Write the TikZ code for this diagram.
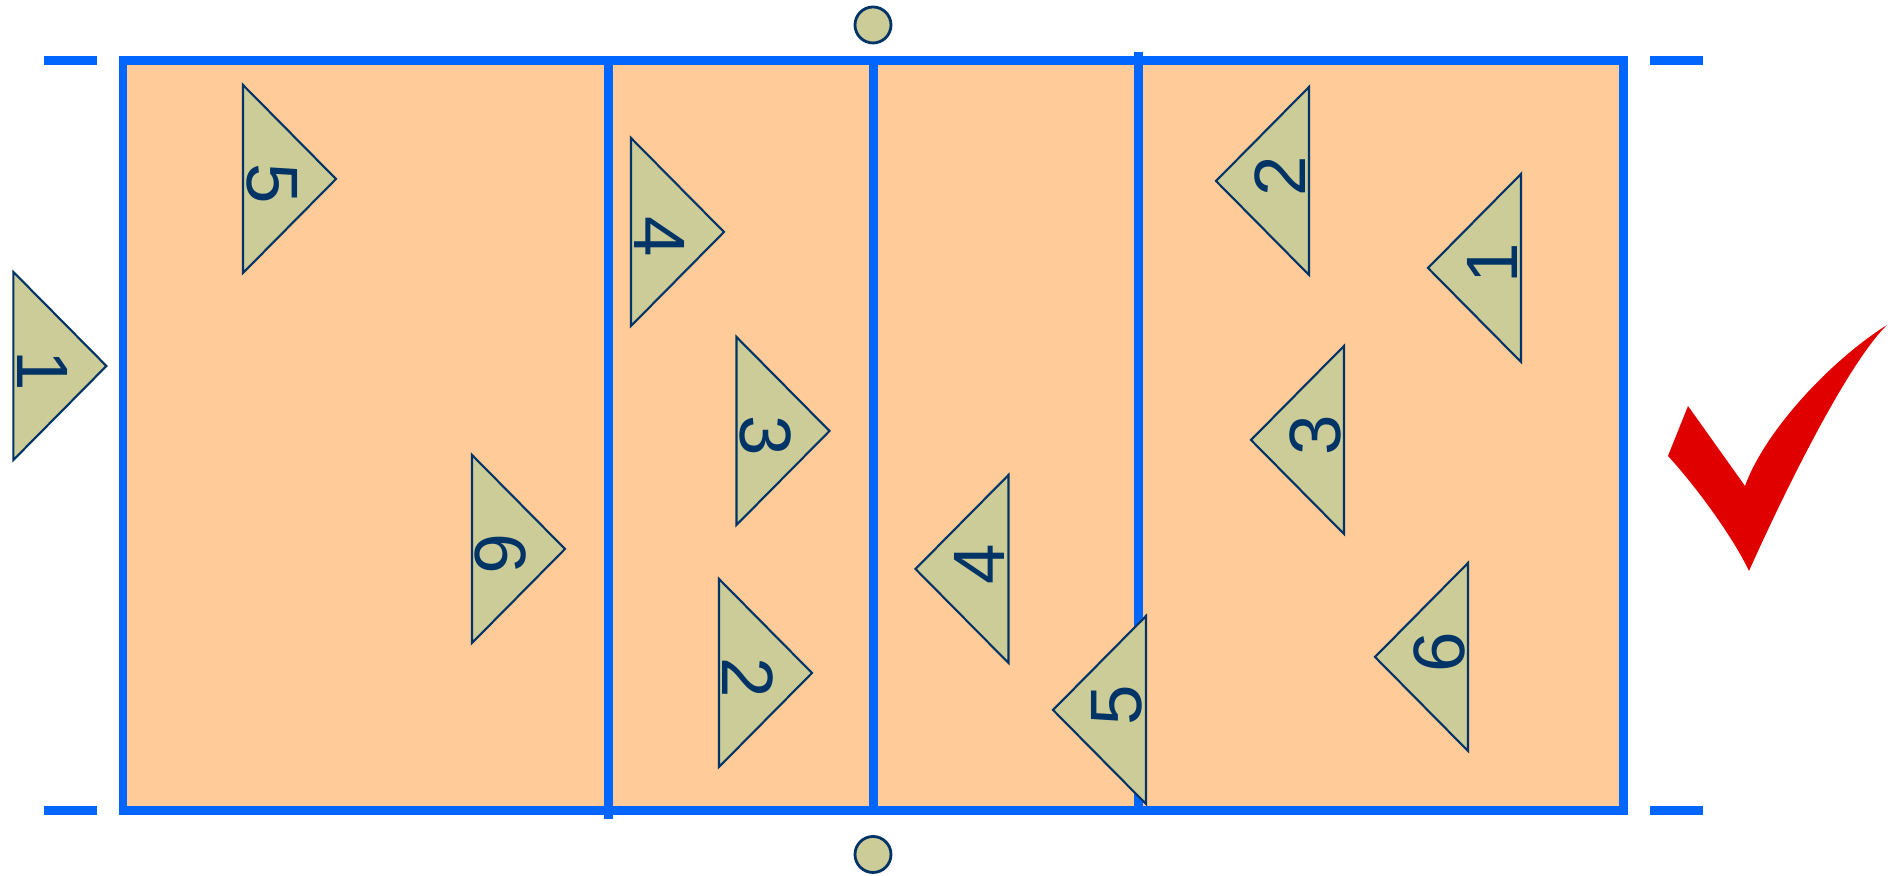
\documentclass[tikz,border=0pt]{standalone}
\usepackage{fontspec}
\setmainfont{Liberation Sans}
\usepackage{tikz}

\definecolor{courtfill}{HTML}{FFCC99}
\definecolor{courtline}{HTML}{0066FF}
\definecolor{playerfill}{HTML}{CCCC99}
\definecolor{navy}{HTML}{003366}
\definecolor{checkred}{HTML}{E10000}

\begin{document}
\begin{tikzpicture}
  [courtline/.style={draw=courtline, line width=2.56pt},
   player/.style={draw=navy, fill=playerfill, line width=0.6pt},
   num/.style={text=navy, font=\fontsize{20.7}{24}\selectfont, inner sep=0pt},
   post/.style={circle, draw=navy, fill=playerfill, line width=0.8pt, minimum size=0.36cm, inner sep=0pt}]
  \useasboundingbox (0,0) rectangle (19.04,8.76);

  \fill[courtfill] (1.23,0.655) rectangle (16.23,8.155);
  \draw[courtline] (1.23,0.655) rectangle (16.23,8.155);
  \draw[courtline] (8.73,0.655) -- (8.73,8.155);
  \draw[courtline] (6.08,0.57) -- (6.08,8.155);
  \draw[courtline] (11.38,0.655) -- (11.38,8.243);
  \foreach \x/\y in {0.437/8.155, 0.437/0.655, 16.50/8.155, 16.50/0.655}
  \draw[courtline] (\x,\y) -- ++(0.533,0);

  \node[post] (nettop) at (8.73,8.51) {};
  \node[post] (netbottom) at (8.73,0.215) {};

  \foreach \nm/\x/\y/\s/\t in {a1/0.134/5.10/1/1, a5/2.43/6.97/1/5, a6/4.72/3.27/1/6,
    a4/6.31/6.44/1/4, a3/7.365/4.45/1/3, a2/7.19/2.03/1/2,
    b2/13.09/6.95/-1/2, b1/15.21/6.08/-1/1, b3/13.44/4.36/-1/3,
    b4/10.085/3.07/-1/4, b5/11.46/1.66/-1/5, b6/14.68/2.19/-1/6}
  {
  \draw[player] (\x,{\y+0.94}) -- (\x,{\y-0.94}) -- ({\x+(\s)*0.93},\y) -- cycle;
  \node[num, rotate={-90*(\s)}] (\nm) at ({\x+(\s)*0.29},{\y-(\s)*0.045}) {\t};
  }

  \fill[checkred] (16.68,4.20) -- (16.88,4.70) -- (17.45,3.90)
    .. controls (17.65,4.45) and (18.3,5.15) .. (18.87,5.51)
    .. controls (18.45,5.1) and (17.78,3.7) .. (17.49,3.05)
    .. controls (17.35,3.35) and (17.0,3.85) .. (16.68,4.20) -- cycle;
\end{tikzpicture}
\end{document}
